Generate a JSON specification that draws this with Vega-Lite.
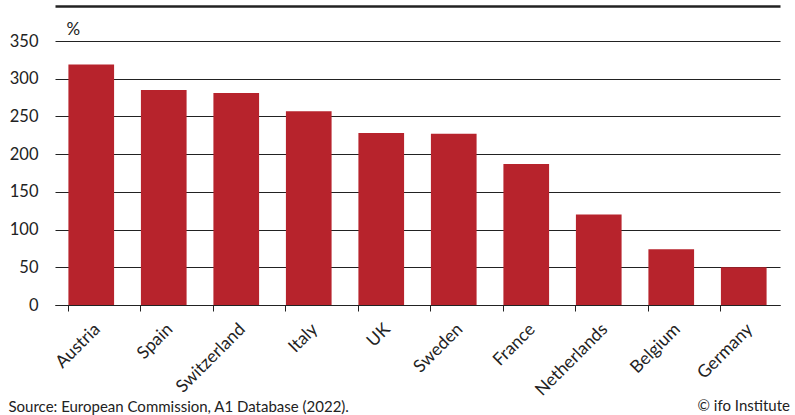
{
  "$schema": "https://vega.github.io/schema/vega-lite/v6.json",
  "width": 725,
  "height": 264,
  "autosize": {"type": "none"},
  "padding": {"left": 55, "top": 41, "right": 15, "bottom": 110},
  "background": "white",
  "config": {"font": "Lato", "view": {"stroke": null}},
  "data": {"values": [
    {"country": "Austria", "value": 319},
    {"country": "Spain", "value": 285},
    {"country": "Switzerland", "value": 281},
    {"country": "Italy", "value": 257},
    {"country": "UK", "value": 228},
    {"country": "Sweden", "value": 227},
    {"country": "France", "value": 187},
    {"country": "Netherlands", "value": 120},
    {"country": "Belgium", "value": 74},
    {"country": "Germany", "value": 50}
  ]},
  "title": {"text": "© ifo Institute", "orient": "bottom", "anchor": "end", "frame": "group", "fontSize": 15, "fontWeight": "normal", "color": "#222", "dx": 10, "dy": -19},
  "layer": [
    {
      "mark": {"type": "bar", "color": "#b7232c"},
      "encoding": {
        "x": {"field": "country", "type": "nominal", "sort": null,
          "scale": {"paddingInner": 0.37, "paddingOuter": 0.185},
          "axis": {"orient": "bottom", "bandPosition": 0, "labelAngle": -45, "labelFontSize": 17.5, "labelColor": "#222", "labelPadding": 9,
            "tickSize": 6, "tickColor": "#222", "domainColor": "#222", "domainWidth": 1.2, "grid": false,
            "title": "Source: European Commission, A1 Database (2022).", "titleX": -47, "titleY": 106, "titleAlign": "left", "titleAnchor": null, "titleBaseline": "alphabetic", "titleFontSize": 15, "titleFontWeight": "normal", "titleColor": "#222"}},
        "y": {"field": "value", "type": "quantitative", "scale": {"domain": [0, 350]},
          "axis": {"values": [0, 50, 100, 150, 200, 250, 300, 350], "domain": false, "ticks": false, "tickSize": 0, "labelPadding": 17, "labelFontSize": 16.5, "labelColor": "#222",
            "grid": true, "gridColor": "#222", "gridWidth": 1.2, "gridOpacity": 1,
            "title": "%", "titleAngle": 0, "titleAlign": "left", "titleBaseline": "alphabetic", "titleX": 11, "titleY": -7, "titleFontSize": 17, "titleFontWeight": "normal", "titleColor": "#222"}}
      }
    },
    {
      "mark": {"type": "bar", "opacity": 0},
      "encoding": {
        "x": {"field": "country", "type": "nominal", "sort": null,
          "axis": {"orient": "top", "offset": 35, "labels": false, "ticks": false, "domain": true, "domainColor": "#222", "domainWidth": 2.5, "grid": false, "title": null}},
        "y": {"field": "value", "type": "quantitative", "axis": null}
      }
    }
  ],
  "resolve": {"axis": {"x": "independent", "y": "independent"}}
}
